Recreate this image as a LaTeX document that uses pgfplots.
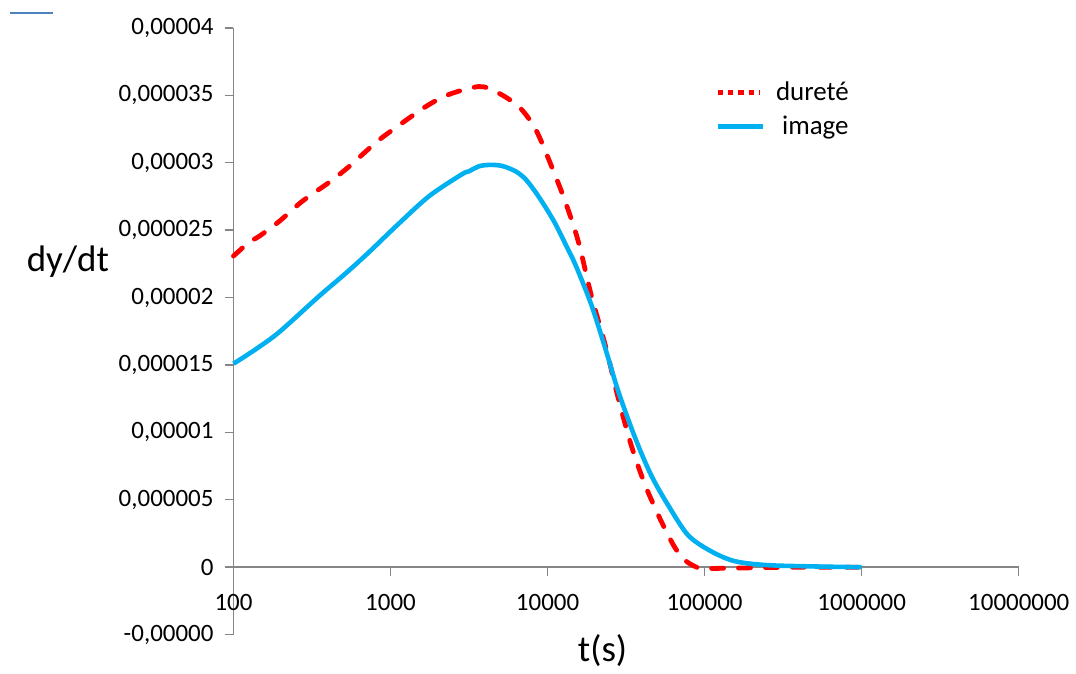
\documentclass[border=0pt]{standalone}
\usepackage{fontspec}
\setmainfont{Carlito}
\usepackage{pgfplots}
\pgfplotsset{compat=1.18}
\definecolor{axgray}{RGB}{134,134,134}
\definecolor{durred}{RGB}{255,0,0}
\definecolor{imgblue}{RGB}{0,176,240}
\definecolor{artblue}{RGB}{79,129,189}

\begin{document}
\begin{tikzpicture}
\begin{axis}[
  scale only axis,
  width=393.5pt, height=304pt,
  xmode=log, xmin=100, xmax=1e7,
  ymin=-0.000005, ymax=0.00004,
  scaled y ticks=false,
  axis y line=left, axis x line=middle,
  axis line style={-, draw=axgray, line width=0.7pt},
  hide obscured x ticks=false, hide obscured y ticks=false,
  xminorticks=false,
  xtick={100,1000,10000,100000,1000000,10000000},
  xticklabels={100,1000,10000,100000,1000000,10000000},
  ytick={-0.000005,0,0.000005,0.00001,0.000015,0.00002,0.000025,0.00003,0.000035,0.00004},
  yticklabels={{-0,00000},{0},{0,000005},{0,00001},{0,000015},{0,00002},{0,000025},{0,00003},{0,000035},{0,00004}},
  tick style={draw=axgray, line width=0.7pt},
  major tick length=4.5pt,
  xtick align=outside, ytick align=outside,
  tick label style={font=\fontsize{12.5}{14}\selectfont, text=black},
  xticklabel style={anchor=center, yshift=-13pt},
  yticklabel style={anchor=east, xshift=-2pt},
  every axis y label/.style={at={(axis description cs:0,0.615)}, anchor=center, xshift=-83pt, font=\fontsize{18.5}{22}\selectfont},
  every axis x label/.style={at={(axis description cs:0.47,0)}, anchor=center, yshift=-8pt, font=\fontsize{18.5}{22}\selectfont},
  ylabel={dy/dt}, xlabel={t(s)},
  legend cell align=left,
  legend style={at={(axis description cs:0.605,0.925)}, anchor=north west, draw=none, fill=none,
    font=\fontsize{13.5}{16}\selectfont, row sep=2pt},
  clip=false,
]
% dureté
\addplot[durred, line width=2.4pt, line cap=round, smooth, dash pattern=on 6pt off 7.5pt,
  legend image code/.code={\draw[durred, line width=2.6pt, line cap=butt, dash pattern=on 2.6pt off 2.6pt] (0pt,0pt) -- (21pt,0pt);}]
  table {
t y
100 2.308e-5
126 2.411e-5
146 2.455e-5
196 2.566e-5
274 2.714e-5
407 2.855e-5
546 2.973e-5
809 3.151e-5
1084 3.262e-5
1680 3.417e-5
2350 3.506e-5
3648 3.565e-5
4677 3.528e-5
6546 3.417e-5
8395 3.247e-5
10600 2.973e-5
13000 2.707e-5
15730 2.411e-5
19010 2.012e-5
23350 1.642e-5
28230 1.250e-5
34130 9.02e-6
41890 6.06e-6
52950 3.40e-6
65000 1.41e-6
76350 4.4e-7
91000 -5e-8
100000 -1e-7
188700 -5e-8
392000 0
1060000 0
};
\addlegendentry{\hspace{3pt}dureté}
% image
\addplot[imgblue, line width=2.3pt, line join=round, smooth,
  legend image code/.code={\draw[imgblue, line width=2.6pt] (0pt,0pt) -- (23pt,0pt);}]
  table {
t y
100 1.509e-5
140 1.620e-5
196 1.745e-5
352 2.012e-5
521 2.182e-5
730 2.337e-5
1084 2.529e-5
1755 2.751e-5
2844 2.914e-5
3150 2.936e-5
3648 2.973e-5
4218 2.984e-5
5105 2.977e-5
6266 2.936e-5
7250 2.877e-5
8395 2.781e-5
9700 2.670e-5
11240 2.544e-5
13000 2.396e-5
15070 2.241e-5
19010 1.945e-5
23350 1.620e-5
28230 1.302e-5
36240 9.54e-6
45750 6.80e-6
58600 4.59e-6
78500 2.37e-6
109900 1.18e-6
156200 4.4e-7
253000 1.5e-7
526000 5e-8
1000000 0
};
\addlegendentry{\hspace{3pt}\ image}
\draw[artblue, line width=1.2pt] (rel axis cs:-0.2846,1.0247) -- (rel axis cs:-0.23,1.0247);
\path (rel axis cs:-0.2973,-0.0526) rectangle (rel axis cs:1.0699,1.046);
\end{axis}
\end{tikzpicture}
\end{document}
